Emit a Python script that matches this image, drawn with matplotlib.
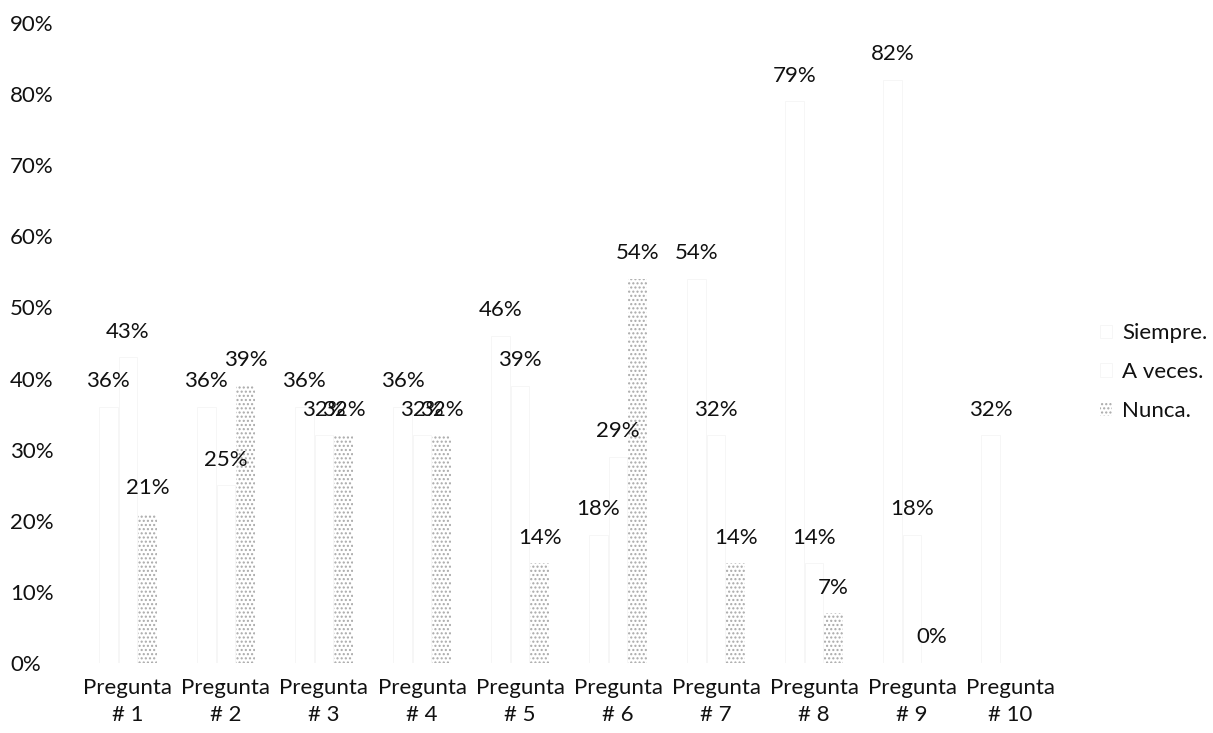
import numpy as np
import matplotlib.pyplot as plt

plt.rcParams['font.family'] = ['Lato', 'DejaVu Sans']

categories = ['Pregunta\n# 1', 'Pregunta\n# 2', 'Pregunta\n# 3', 'Pregunta\n# 4', 'Pregunta\n# 5',
              'Pregunta\n# 6', 'Pregunta\n# 7', 'Pregunta\n# 8', 'Pregunta\n# 9', 'Pregunta\n# 10']
series_names = ['Siempre.', 'A veces.', 'Nunca.']
siempre = [0.36, 0.36, 0.36, 0.36, 0.46, 0.18, 0.54, 0.79, 0.82, 0.32]
a_veces = [0.43, 0.25, 0.32, 0.32, 0.39, 0.29, 0.32, 0.14, 0.18, np.nan]
nunca = [0.21, 0.39, 0.32, 0.32, 0.14, 0.54, 0.14, 0.07, 0.00, np.nan]
y_ticks = [0, 0.1, 0.2, 0.3, 0.4, 0.5, 0.6, 0.7, 0.8, 0.9]

fig = plt.figure(figsize=(12.13, 7.33), dpi=100)
ax = fig.add_axes([0.0651, 0.0955, 0.808, 0.8731])

x = np.arange(len(categories))
w = 0.2
styles = [dict(facecolor='white', edgecolor='#f3f3f3', linewidth=0.5),
          dict(facecolor='white', edgecolor='#f3f3f3', linewidth=0.5),
          dict(facecolor='white', edgecolor='#a9a9a9', hatch='....', linewidth=0)]

for i, (vals, name) in enumerate(zip([siempre, a_veces, nunca], series_names)):
    pos = x + (i - 1) * w
    bars = ax.bar(pos, vals, w * 0.95, label=name, **styles[i])
    for b, v in zip(bars, vals):
        if np.isnan(v):
            continue
        # labels sit above the bar end
        ax.annotate('%d%%' % round(v * 100), (b.get_x() + b.get_width() / 2, v),
                    xytext=(0, 18.5), textcoords='offset points',
                    ha='center', va='center', fontsize=16, color='#111111')

ax.set_xlim(-0.5, 9.5)
ax.set_ylim(0, 0.9)
ax.set_yticks(y_ticks)
ax.set_yticklabels(['%d%%' % round(t * 100) for t in y_ticks])
ax.set_xticks(x)
ax.set_xticklabels(categories, linespacing=1.45)
for lab in ax.get_yticklabels():
    lab.set_horizontalalignment('left')
ax.tick_params(axis='y', length=0, pad=49.7, labelsize=16, labelcolor='#111111')
ax.tick_params(axis='x', length=0, pad=11, labelsize=16, labelcolor='#111111')
for s in ax.spines.values():
    s.set_visible(False)

fig.legend(loc='center left', bbox_to_anchor=(0.9068, 0.4925), frameon=False,
           fontsize=16, handlelength=0.55, handleheight=0.55, handletextpad=0.45,
           labelspacing=0.85, borderpad=0, borderaxespad=0, labelcolor='#111111')

fig.savefig('out.png', dpi=100)
